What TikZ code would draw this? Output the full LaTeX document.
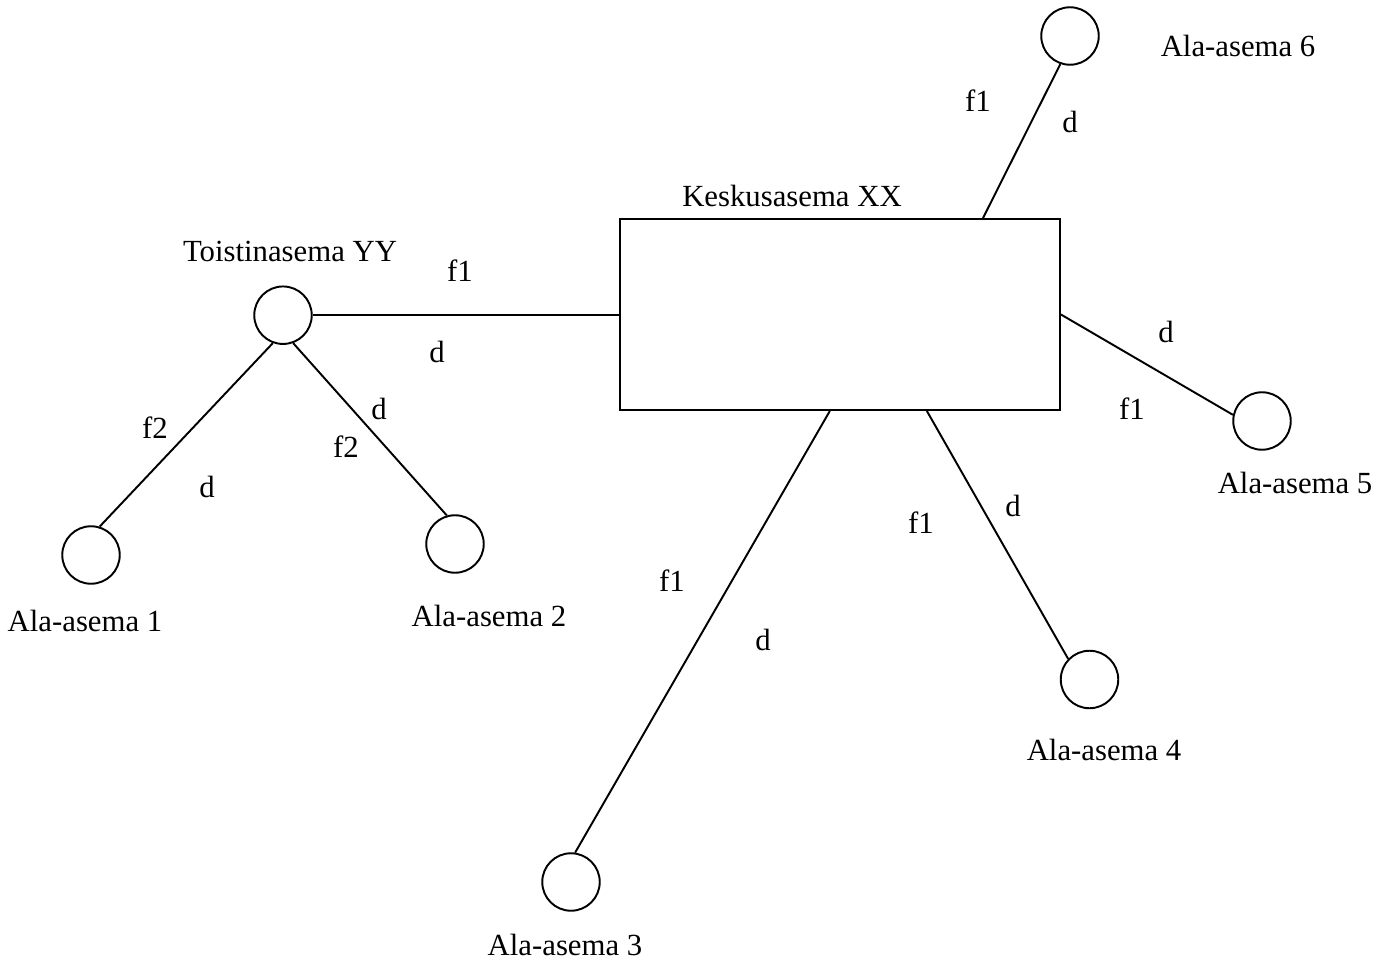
\documentclass[tikz,border=0pt]{standalone}
\usepackage{fontspec}
\setmainfont{Liberation Serif}
\begin{document}
\begin{tikzpicture}[x=0.02cm,y=-0.02cm]
  \tikzset{ s/.style={circle,draw,line width=1.1pt,inner sep=0pt,minimum size=1.15cm},
    k/.style={rectangle,draw,line width=1.1pt,minimum width=8.8cm,minimum height=3.82cm},
    t/.style={font=\fontsize{17.5}{20}\selectfont,inner sep=0pt},
    l/.style={line width=1.1pt},
  }
  \useasboundingbox (0,0) rectangle (1386,962);
  \node[k] (xx) at (840,314.5) {};
  \node[s] (yy) at (283,315.2) {};
  \node[s] (a1) at (91,555) {};
  \node[s] (a2) at (455,544) {};
  \node[s] (a3) at (571,882) {};
  \node[s] (a4) at (1089.5,679.5) {};
  \node[s] (a5) at (1262,421) {};
  \node[s] (a6) at (1070,36) {};

  % station names
  \node[t] (nxx) at (792,196) {Keskusasema XX};
  \node[t] (nyy) at (290,251) {Toistinasema YY};
  \node[t] (n1) at (85,621) {Ala-asema 1};
  \node[t] (n2) at (489,616) {Ala-asema 2};
  \node[t] (n3) at (565,945) {Ala-asema 3};
  \node[t] (n4) at (1104,750) {Ala-asema 4};
  \node[t] (n5) at (1295,483) {Ala-asema 5};
  \node[t] (n6) at (1238,46) {Ala-asema 6};

  % the links
  \draw[l] (yy.east) -- (xx.west |- yy.east);
  \draw[l] (yy.250) -- (a1.73);
  \draw[l] (yy.290) -- (a2.106);
  \draw[l] (xx.264) -- (a3.82);
  \draw[l] (xx.312.3) -- (a4.136);
  \draw[l] (xx.east) -- (a5.168);
  \draw[l] (xx.34.3) -- (a6.251);

  % frequencies and directions
  \node[t] (fyy) at (460,271) {f1};
  \node[t] (dyy) at (437,352) {d};
  \node[t] (f1) at (155,428) {f2};
  \node[t] (d1) at (207,487) {d};
  \node[t] (d2) at (379,409) {d};
  \node[t] (f2) at (346,447) {f2};
  \node[t] (f3) at (672,581) {f1};
  \node[t] (d3) at (763,640) {d};
  \node[t] (f4) at (921,523) {f1};
  \node[t] (d4) at (1013,506) {d};
  \node[t] (d5) at (1166,332) {d};
  \node[t] (f5) at (1132,409) {f1};
  \node[t] (f6) at (978,101) {f1};
  \node[t] (d6) at (1070,122) {d};
\end{tikzpicture}
\end{document}
